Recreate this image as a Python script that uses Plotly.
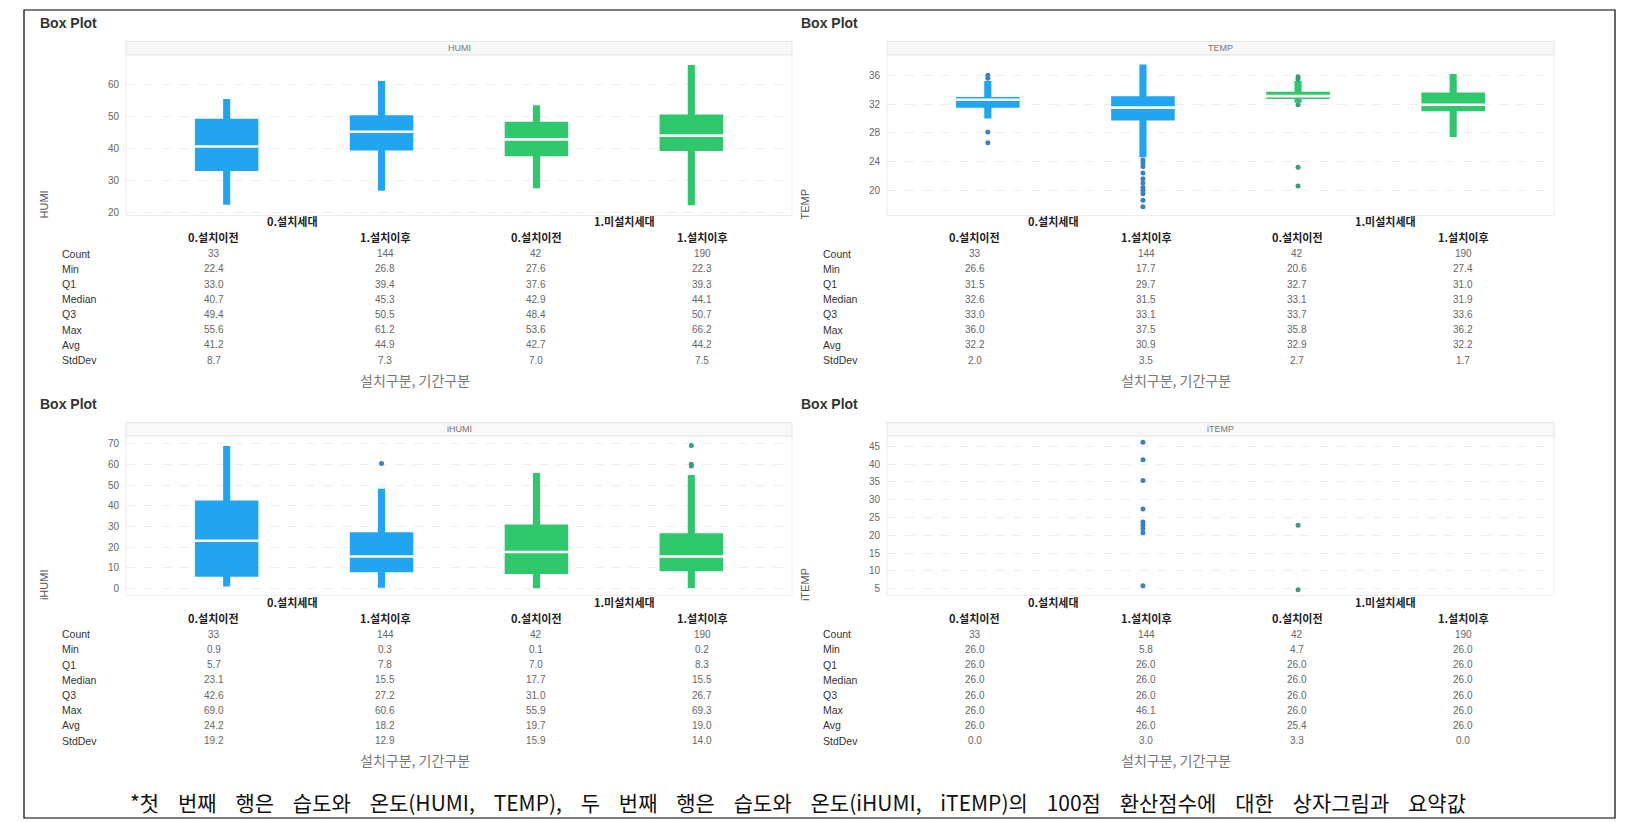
import plotly.graph_objects as go

W, H = 1627, 823

# ---------------- data ----------------
subgroups = ["0.설치이전", "1.설치이후", "0.설치이전", "1.설치이후"]
groups = ["0.설치세대", "1.미설치세대"]
stat_names = ["Count", "Min", "Q1", "Median", "Q3", "Max", "Avg", "StdDev"]
count = [33, 144, 42, 190]

humi_min = [22.4, 26.8, 27.6, 22.3]
humi_q1 = [33.0, 39.4, 37.6, 39.3]
humi_med = [40.7, 45.3, 42.9, 44.1]
humi_q3 = [49.4, 50.5, 48.4, 50.7]
humi_max = [55.6, 61.2, 53.6, 66.2]
humi_avg = [41.2, 44.9, 42.7, 44.2]
humi_std = [8.7, 7.3, 7.0, 7.5]
humi_wlo = [22.4, 26.8, 27.6, 22.3]
humi_whi = [55.6, 61.2, 53.6, 66.2]
humi_out = [[], [], [], []]

temp_min = [26.6, 17.7, 20.6, 27.4]
temp_q1 = [31.5, 29.7, 32.7, 31.0]
temp_med = [32.6, 31.5, 33.1, 31.9]
temp_q3 = [33.0, 33.1, 33.7, 33.6]
temp_max = [36.0, 37.5, 35.8, 36.2]
temp_avg = [32.2, 30.9, 32.9, 32.2]
temp_std = [2.0, 3.5, 2.7, 1.7]
temp_wlo = [30.0, 24.6, 32.2, 27.4]
temp_whi = [35.2, 37.5, 35.2, 36.2]
temp_out = [[35.6, 36.0, 28.1, 26.6],
            [24.2, 23.8, 23.3, 22.4, 21.6, 21.0, 20.4, 20.0, 19.5, 18.6, 17.7],
            [35.5, 35.8, 31.9, 23.2, 20.6],
            []]

ihumi_min = [0.9, 0.3, 0.1, 0.2]
ihumi_q1 = [5.7, 7.8, 7.0, 8.3]
ihumi_med = [23.1, 15.5, 17.7, 15.5]
ihumi_q3 = [42.6, 27.2, 31.0, 26.7]
ihumi_max = [69.0, 60.6, 55.9, 69.3]
ihumi_avg = [24.2, 18.2, 19.7, 19.0]
ihumi_std = [19.2, 12.9, 15.9, 14.0]
ihumi_wlo = [0.9, 0.3, 0.1, 0.2]
ihumi_whi = [69.0, 48.3, 55.9, 55.0]
ihumi_out = [[], [60.6], [], [59.3, 60.2, 69.3]]

itemp_min = [26.0, 5.8, 4.7, 26.0]
itemp_q1 = [26.0, 26.0, 26.0, 26.0]
itemp_med = [26.0, 26.0, 26.0, 26.0]
itemp_q3 = [26.0, 26.0, 26.0, 26.0]
itemp_max = [26.0, 46.1, 26.0, 26.0]
itemp_avg = [26.0, 26.0, 25.4, 26.0]
itemp_std = [0.0, 3.0, 3.3, 0.0]
itemp_wlo = [26.0, 26.0, 26.0, 26.0]
itemp_whi = [26.0, 26.0, 26.0, 26.0]
itemp_out = [[], [46.1, 41.2, 35.4, 27.4, 23.7, 22.8, 21.8, 20.7, 5.8], [22.8, 4.7], []]

x_title = "설치구분, 기간구분"
caption = ("*첫 번째 행은 습도와 온도(HUMI, TEMP), 두 번째 행은 습도와 온도(iHUMI, iTEMP)의 "
           "100점 환산점수에 대한 상자그림과 요약값")

# ---------------- style ----------------
BLUE = "#22A5F1"
GREEN = "#2EC76C"
DOT_BLUE = "#3A82BE"
DOT_GREEN = "#36A07A"
box_colors = [BLUE, BLUE, GREEN, GREEN]
dot_colors = [DOT_BLUE, DOT_BLUE, DOT_GREEN, DOT_GREEN]
LAT = "Liberation Sans, Arial, Noto Sans CJK KR"
KOR = "Noto Sans CJK KR, Liberation Sans"

def fx(px):
    return px / W

def fy(py):
    return 1 - py / H

panels = [
    dict(name="HUMI", left=126, right=792, top=55, bottom=216, dy=0,
         yrange=[19.06, 69.4], ticks=[20, 30, 40, 50, 60],
         stats=[humi_min, humi_q1, humi_med, humi_q3, humi_max, humi_avg, humi_std],
         wlo=humi_wlo, whi=humi_whi, out=humi_out),
    dict(name="TEMP", left=887, right=1554, top=55, bottom=216, dy=0,
         yrange=[16.49, 38.85], ticks=[20, 24, 28, 32, 36],
         stats=[temp_min, temp_q1, temp_med, temp_q3, temp_max, temp_avg, temp_std],
         wlo=temp_wlo, whi=temp_whi, out=temp_out),
    dict(name="iHUMI", left=126, right=792, top=437, bottom=597, dy=381.5,
         yrange=[-3.43, 73.9], ticks=[0, 10, 20, 30, 40, 50, 60, 70],
         stats=[ihumi_min, ihumi_q1, ihumi_med, ihumi_q3, ihumi_max, ihumi_avg, ihumi_std],
         wlo=ihumi_wlo, whi=ihumi_whi, out=ihumi_out),
    dict(name="iTEMP", left=887, right=1554, top=437, bottom=597, dy=381.5,
         yrange=[3.07, 47.9], ticks=[5, 10, 15, 20, 25, 30, 35, 40, 45],
         stats=[itemp_min, itemp_q1, itemp_med, itemp_q3, itemp_max, itemp_avg, itemp_std],
         wlo=itemp_wlo, whi=itemp_whi, out=itemp_out),
]

xpos = list(range(len(subgroups)))
BOX_W = 0.41
WHISK_W = 0.046

fig = go.Figure()
layout_axes = {}
annotations = []
shapes = []

bar_traces = []
scatter_traces = []

for i, p in enumerate(panels):
    n = i + 1
    xa = "x" if n == 1 else f"x{n}"
    ya = "y" if n == 1 else f"y{n}"
    mn, q1, med, q3, mx, avg, sd = p["stats"]

    # whiskers (thick)
    bar_traces.append(go.Bar(
        x=xpos, base=p["wlo"], y=[h - l for h, l in zip(p["whi"], p["wlo"])],
        width=WHISK_W, marker=dict(color=box_colors, line=dict(width=0)),
        xaxis=xa, yaxis=ya, showlegend=False, hoverinfo="skip"))
    # boxes
    bar_traces.append(go.Bar(
        x=xpos, base=q1, y=[b - a for a, b in zip(q1, q3)],
        width=BOX_W, marker=dict(color=box_colors, line=dict(width=0)),
        xaxis=xa, yaxis=ya, showlegend=False, hoverinfo="skip"))
    # medians
    mxs, mys = [], []
    for k, m in enumerate(med):
        mxs += [xpos[k] - BOX_W / 2, xpos[k] + BOX_W / 2, None]
        mys += [m, m, None]
    scatter_traces.append(go.Scatter(
        x=mxs, y=mys, mode="lines", line=dict(color="white", width=2.6),
        xaxis=xa, yaxis=ya, showlegend=False, hoverinfo="skip"))
    # outliers
    oxs, oys, ocs = [], [], []
    for k, pts in enumerate(p["out"]):
        for v in pts:
            oxs.append(xpos[k]); oys.append(v); ocs.append(dot_colors[k])
    scatter_traces.append(go.Scatter(
        x=oxs, y=oys, mode="markers", marker=dict(color=ocs, size=5),
        xaxis=xa, yaxis=ya, showlegend=False, hoverinfo="skip"))

    dom_x = [fx(p["left"]), fx(p["right"])]
    dom_y = [fy(p["bottom"]), fy(p["top"])]
    layout_axes["xaxis" if n == 1 else f"xaxis{n}"] = dict(
        domain=dom_x, range=[-0.65, 3.65], showticklabels=False, showgrid=False,
        zeroline=False, showline=False, ticks="", anchor=ya, fixedrange=True)
    layout_axes["yaxis" if n == 1 else f"yaxis{n}"] = dict(
        domain=dom_y, range=p["yrange"], tickvals=p["ticks"], showgrid=True,
        gridcolor="#ededed", griddash="dash", gridwidth=1, zeroline=False,
        showline=False, ticks="", ticklabelstandoff=6,
        tickfont=dict(family=LAT, size=10, color="#666"), anchor=xa, fixedrange=True)

    # plot frame and strip
    shapes.append(dict(type="rect", xref="paper", yref="paper",
                       x0=fx(p["left"]), x1=fx(p["right"]), y0=fy(p["bottom"]), y1=fy(p["top"]),
                       line=dict(color="#ececec", width=1), layer="below"))
    strip_top = p["top"] - 13.5
    shapes.append(dict(type="rect", xref="paper", yref="paper",
                       x0=fx(p["left"]), x1=fx(p["right"]), y0=fy(p["top"]), y1=fy(strip_top),
                       fillcolor="#f8f8f8", line=dict(color="#e6e6e6", width=1), layer="below"))
    annotations.append(dict(text=p["name"], xref="paper", yref="paper",
                            x=fx((p["left"] + p["right"]) / 2), y=fy((p["top"] + strip_top) / 2),
                            xanchor="center", yanchor="middle", showarrow=False,
                            font=dict(family=LAT, size=9, color="#777")))

    # title "Box Plot"
    annotations.append(dict(text="<b>Box Plot</b>", xref="paper", yref="paper",
                            x=fx(p["left"] - 88), y=fy(23 + p["dy"]), xanchor="left", yanchor="middle",
                            showarrow=False, font=dict(family=LAT, size=14, color="#333")))
    # y axis title
    annotations.append(dict(text=p["name"], xref="paper", yref="paper",
                            x=fx(p["left"] - 82), y=fy(205 + p["dy"]), xanchor="center", yanchor="middle",
                            textangle=-90, showarrow=False, font=dict(family=LAT, size=11, color="#555")))

    # table
    col_off = [87.5, 259, 410, 576]
    grp_off = [166, 498]
    for g, gname in enumerate(groups):
        annotations.append(dict(text=f"<b>{gname}</b>", xref="paper", yref="paper",
                                x=fx(p["left"] + grp_off[g]), y=fy(222 + p["dy"]),
                                xanchor="center", yanchor="middle", showarrow=False,
                                font=dict(family=KOR, size=11, color="#222")))
    for k, sg in enumerate(subgroups):
        annotations.append(dict(text=f"<b>{sg}</b>", xref="paper", yref="paper",
                                x=fx(p["left"] + col_off[k]), y=fy(237.6 + p["dy"]),
                                xanchor="center", yanchor="middle", showarrow=False,
                                font=dict(family=KOR, size=11, color="#222")))
    rows = [[str(c) for c in count]] + [[f"{v:.1f}" for v in s] for s in p["stats"]]
    for r, sname in enumerate(stat_names):
        ry = fy(254.2 + r * 15.25 + p["dy"])
        annotations.append(dict(text=sname, xref="paper", yref="paper",
                                x=fx(p["left"] - 66), y=ry, xanchor="left", yanchor="middle",
                                showarrow=False, font=dict(family=LAT, size=10.5, color="#333")))
        for k in range(len(subgroups)):
            annotations.append(dict(text=rows[r][k], xref="paper", yref="paper",
                                    x=fx(p["left"] + col_off[k]), y=ry, xanchor="center",
                                    yanchor="middle", showarrow=False,
                                    font=dict(family=LAT, size=10, color="#666")))
    # x axis title
    annotations.append(dict(text=x_title, xref="paper", yref="paper",
                            x=fx(p["left"] + 289), y=fy(380.8 + p["dy"]), xanchor="center",
                            yanchor="middle", showarrow=False,
                            font=dict(family=KOR, size=14, color="#777")))

for t in bar_traces + scatter_traces:
    fig.add_trace(t)

# outer frame
shapes.append(dict(type="rect", xref="paper", yref="paper",
                   x0=fx(24), x1=fx(1615), y0=fy(820), y1=fy(10),
                   line=dict(color="#000", width=1.2), layer="above"))

cap = caption.replace(" ", "\u00a0" * 4)
annotations.append(dict(text=cap, xref="paper", yref="paper",
                        x=fx(798), y=fy(804), xanchor="center", yanchor="middle",
                        showarrow=False, font=dict(family=KOR, size=21, color="#111")))

fig.update_layout(width=W, height=H, margin=dict(l=0, r=0, t=0, b=0),
                  paper_bgcolor="white", plot_bgcolor="white", barmode="overlay",
                  annotations=annotations, shapes=shapes, showlegend=False,
                  **layout_axes)

fig.write_html("out.html")
